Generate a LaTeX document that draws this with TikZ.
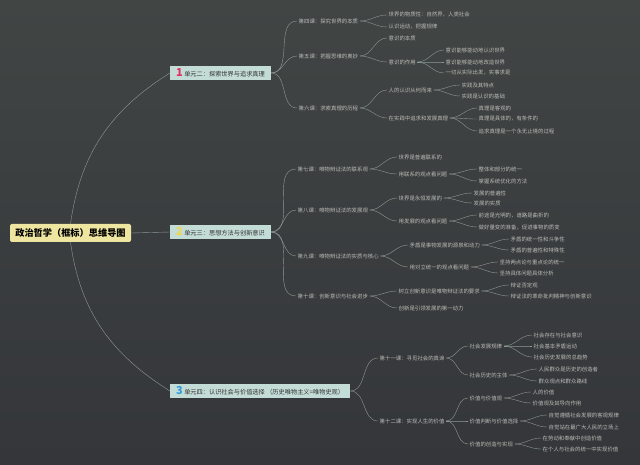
\documentclass[tikz,border=0pt]{standalone}
\usepackage{fontspec}
\setmainfont{Noto Sans CJK SC}
\usetikzlibrary{positioning}
\definecolor{bgtop}{RGB}{65,69,68}
\definecolor{bgbot}{RGB}{52,54,58}
\definecolor{rootyellow}{RGB}{238,230,160}
\definecolor{unitblue}{RGB}{196,220,214}
\definecolor{numred}{RGB}{226,48,100}
\definecolor{numyellow}{RGB}{240,214,70}
\definecolor{numblue}{RGB}{52,156,222}
\definecolor{textgray}{RGB}{186,188,182}
\definecolor{linegray}{RGB}{140,154,148}
\newcommand{\unitnum}[2]{{\fontsize{11}{11}\selectfont\bfseries\textcolor{#1}{#2}}}

\begin{document}
\begin{tikzpicture}[
  x=1pt, y=-1pt,
  root/.style={rectangle, rounded corners=2pt, fill=rootyellow, text=black,
               minimum width=121pt, minimum height=18pt, inner sep=0pt,
               font=\fontsize{9.2}{10}\selectfont\bfseries},
  unit/.style={rectangle, fill=unitblue, text=black!80, anchor=west,
               minimum height=14pt, inner xsep=6pt, inner ysep=0pt,
               font=\fontsize{6.2}{7}\selectfont},
  topic/.style={anchor=west, text=textgray, inner xsep=1.5pt, inner ysep=0.5pt,
                font=\fontsize{5.4}{6}\selectfont},
  link/.style={draw=linegray, line width=0.4pt},
  branch/.style={link, out=0, in=180},
]
  \shade[top color=bgtop, bottom color=bgbot] (0,0) rectangle (640,465);
  \useasboundingbox (0,0) rectangle (640,465);

  % Central topic
  \node[root] (root) at (70.5,233) {政治哲学（框标）思维导图};

  % Units
  \node[unit] (u1) at (170,73)  {\unitnum{numred}{1}\ 单元二：探索世界与追求真理};
  \node[unit] (u2) at (170,232) {\unitnum{numyellow}{2}\ 单元三：思想方法与创新意识};
  \node[unit] (u3) at (170,391) {\unitnum{numblue}{3}\ 单元四：认识社会与价值选择\ （历史唯物主义=唯物史观）};

  % Unit two
  \node[topic] (k4)   at (297,21)  {第四课：探究世界的本质};
  \node[topic] (k5)   at (297,56)  {第五课：把握思维的奥妙};
  \node[topic] (k6)   at (297,108) {第六课：求索真理的历程};
  \node[topic] (k4a)  at (387,15)  {世界的物质性：自然界，人类社会};
  \node[topic] (k4b)  at (387,27)  {认识运动，把握规律};
  \node[topic] (k5a)  at (387,38)  {意识的本质};
  \node[topic] (k5b)  at (387,62)  {意识的作用};
  \node[topic] (k5b1) at (444,50)  {意识能够能动地认识世界};
  \node[topic] (k5b2) at (444,62)  {意识能够能动地改造世界};
  \node[topic] (k5b3) at (444,73)  {一切从实际出发，实事求是};
  \node[topic] (k6a)  at (387,90)  {人的认识从何而来};
  \node[topic] (k6b)  at (387,118) {在实践中追求和发展真理};
  \node[topic] (k6a1) at (460,85)  {实践及其特点};
  \node[topic] (k6a2) at (460,96)  {实践是认识的基础};
  \node[topic] (k6b1) at (477,108) {真理是客观的};
  \node[topic] (k6b2) at (477,119) {真理是具体的，有条件的};
  \node[topic] (k6b3) at (477,131) {追求真理是一个永无止境的过程};

  % Unit three
  \node[topic] (k7)    at (296,169) {第七课：唯物辩证法的联系观};
  \node[topic] (k8)    at (296,210) {第八课：唯物辩证法的发展观};
  \node[topic] (k9)    at (296,256) {第九课：唯物辩证法的实质与核心};
  \node[topic] (k10)   at (296,296) {第十课：创新意识与社会进步};
  \node[topic] (k7a)   at (397,157) {世界是普遍联系的};
  \node[topic] (k7b)   at (397,174) {用联系的观点看问题};
  \node[topic] (k7b1)  at (477,169) {整体和部分的统一};
  \node[topic] (k7b2)  at (477,181) {掌握系统优化的方法};
  \node[topic] (k8a)   at (397,198) {世界是永恒发展的};
  \node[topic] (k8b)   at (397,221) {用发展的观点看问题};
  \node[topic] (k8a1)  at (472,193) {发展的普遍性};
  \node[topic] (k8a2)  at (472,203) {发展的实质};
  \node[topic] (k8b1)  at (477,215) {前途是光明的，道路是曲折的};
  \node[topic] (k8b2)  at (477,227) {做好量变的准备，促进事物的质变};
  \node[topic] (k9a)   at (408,245) {矛盾是事物发展的源泉和动力};
  \node[topic] (k9b)   at (408,267) {用对立统一的观点看问题};
  \node[topic] (k9a1)  at (509,239) {矛盾的统一性和斗争性};
  \node[topic] (k9a2)  at (509,250) {矛盾的普遍性和特殊性};
  \node[topic] (k9b1)  at (498,262) {坚持两点论与重点论的统一};
  \node[topic] (k9b2)  at (498,273) {坚持具体问题具体分析};
  \node[topic] (k10a)  at (397,291) {树立创新意识是唯物辩证法的要求};
  \node[topic] (k10b)  at (397,308) {创新是引领发展的第一动力};
  \node[topic] (k10a1) at (509,285) {辩证否定观};
  \node[topic] (k10a2) at (509,296) {辩证法的革命批判精神与创新意识};

  % Unit four
  \node[topic] (k11)   at (378,358) {第十一课：寻觅社会的真谛};
  \node[topic] (k12)   at (378,421) {第十二课：实现人生的价值};
  \node[topic] (k11a)  at (468,346) {社会发展规律};
  \node[topic] (k11b)  at (468,375) {社会历史的主体};
  \node[topic] (k11a1) at (532,335) {社会存在与社会意识};
  \node[topic] (k11a2) at (532,346) {社会基本矛盾运动};
  \node[topic] (k11a3) at (532,357) {社会历史发展的总趋势};
  \node[topic] (k11b1) at (537,369) {人民群众是历史的创造者};
  \node[topic] (k11b2) at (537,381) {群众观点和群众路线};
  \node[topic] (k12a)  at (468,398) {价值与价值观};
  \node[topic] (k12b)  at (468,421) {价值判断与价值选择};
  \node[topic] (k12c)  at (468,444) {价值的创造与实现};
  \node[topic] (k12a1) at (531,392) {人的价值};
  \node[topic] (k12a2) at (531,403) {价值观及其导向作用};
  \node[topic] (k12b1) at (547,415) {自觉遵循社会发展的客观规律};
  \node[topic] (k12b2) at (547,427) {自觉站在最广大人民的立场上};
  \node[topic] (k12c1) at (541,438) {在劳动和奉献中创造价值};
  \node[topic] (k12c2) at (541,449) {在个人与社会的统一中实现价值};

  % Branches from the centre
  \draw[link] (root.north) to[out=82, in=212] (u1.west);
  \draw[link] (root.east) -- (u2.west);
  \draw[link] (root.south) to[out=-82, in=148] (u3.west);

  % Unit two branches
  \draw[branch] (u1.east) to (k4.west);
  \draw[branch] (u1.east) to (k5.west);
  \draw[branch] (u1.east) to (k6.west);
  \draw[branch] (k4.east) to (k4a.west);
  \draw[branch] (k4.east) to (k4b.west);
  \draw[branch] (k5.east) to (k5a.west);
  \draw[branch] (k5.east) to (k5b.west);
  \draw[branch] (k5b.east) to (k5b1.west);
  \draw[branch] (k5b.east) to (k5b2.west);
  \draw[branch] (k5b.east) to (k5b3.west);
  \draw[branch] (k6.east) to (k6a.west);
  \draw[branch] (k6.east) to (k6b.west);
  \draw[branch] (k6a.east) to (k6a1.west);
  \draw[branch] (k6a.east) to (k6a2.west);
  \draw[branch] (k6b.east) to (k6b1.west);
  \draw[branch] (k6b.east) to (k6b2.west);
  \draw[branch] (k6b.east) to (k6b3.west);

  % Unit three branches
  \draw[branch] (u2.east) to (k7.west);
  \draw[branch] (u2.east) to (k8.west);
  \draw[branch] (u2.east) to (k9.west);
  \draw[branch] (u2.east) to (k10.west);
  \draw[branch] (k7.east) to (k7a.west);
  \draw[branch] (k7.east) to (k7b.west);
  \draw[branch] (k7b.east) to (k7b1.west);
  \draw[branch] (k7b.east) to (k7b2.west);
  \draw[branch] (k8.east) to (k8a.west);
  \draw[branch] (k8.east) to (k8b.west);
  \draw[branch] (k8a.east) to (k8a1.west);
  \draw[branch] (k8a.east) to (k8a2.west);
  \draw[branch] (k8b.east) to (k8b1.west);
  \draw[branch] (k8b.east) to (k8b2.west);
  \draw[branch] (k9.east) to (k9a.west);
  \draw[branch] (k9.east) to (k9b.west);
  \draw[branch] (k9a.east) to (k9a1.west);
  \draw[branch] (k9a.east) to (k9a2.west);
  \draw[branch] (k9b.east) to (k9b1.west);
  \draw[branch] (k9b.east) to (k9b2.west);
  \draw[branch] (k10.east) to (k10a.west);
  \draw[branch] (k10.east) to (k10b.west);
  \draw[branch] (k10a.east) to (k10a1.west);
  \draw[branch] (k10a.east) to (k10a2.west);

  % Unit four branches
  \draw[branch] (u3.east) to (k11.west);
  \draw[branch] (u3.east) to (k12.west);
  \draw[branch] (k11.east) to (k11a.west);
  \draw[branch] (k11.east) to (k11b.west);
  \draw[branch] (k11a.east) to (k11a1.west);
  \draw[branch] (k11a.east) to (k11a2.west);
  \draw[branch] (k11a.east) to (k11a3.west);
  \draw[branch] (k11b.east) to (k11b1.west);
  \draw[branch] (k11b.east) to (k11b2.west);
  \draw[branch] (k12.east) to (k12a.west);
  \draw[branch] (k12.east) to (k12b.west);
  \draw[branch] (k12.east) to (k12c.west);
  \draw[branch] (k12a.east) to (k12a1.west);
  \draw[branch] (k12a.east) to (k12a2.west);
  \draw[branch] (k12b.east) to (k12b1.west);
  \draw[branch] (k12b.east) to (k12b2.west);
  \draw[branch] (k12c.east) to (k12c1.west);
  \draw[branch] (k12c.east) to (k12c2.west);
\end{tikzpicture}
\end{document}
